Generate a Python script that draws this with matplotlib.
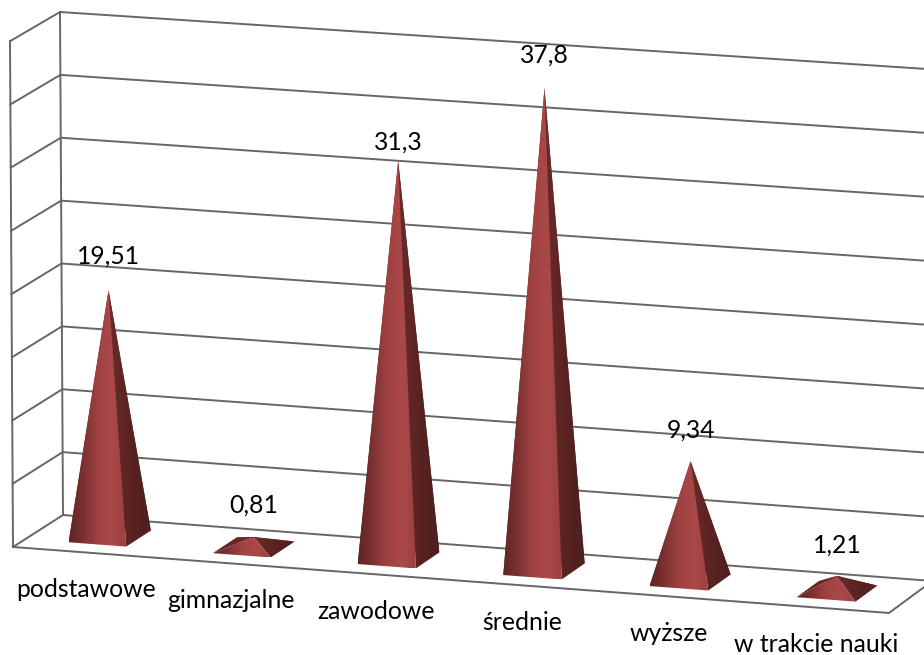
import matplotlib
matplotlib.use("Agg")
import matplotlib.pyplot as plt
from matplotlib.colors import LinearSegmentedColormap
from matplotlib.patches import Polygon
import numpy as np

plt.rcParams['font.family'] = ['Lato', 'DejaVu Sans']

categories = ["podstawowe", "gimnazjalne", "zawodowe", "średnie", "wyższe", "w trakcie nauki"]
values = [19.51, 0.81, 31.3, 37.8, 9.34, 1.21]
value_labels = ["19,51", "0,81", "31,3", "37,8", "9,34", "1,21"]
grid_values = [0, 5, 10, 15, 20, 25, 30, 35, 40]

W, H = 924, 655
GRID = "#666666"
HALF_W = 0.2        # half the base width, in categories
HALF_D = 0.25       # half the base depth, as a share of the floor
LABEL_GAP = [34, 32, 19, 33, 31, 31]

front_cmap = LinearSegmentedColormap.from_list("front", ["#5f2424", "#7d3232", "#a04242", "#aa4848", "#9c4040"])
right_cmap = LinearSegmentedColormap.from_list("right", ["#6b2b29", "#5a2322", "#4e1e1e"])
left_cmap = LinearSegmentedColormap.from_list("left", ["#5a2222", "#742c2c"])


def project(u, d, v):
    # u: position along the categories 0-6, d: depth 0-1, v: value on the 0-40 axis
    fx = 13 + 143.9 * u + 0.35 * u ** 2
    fy = 547 + 0.0753 * (fx - 13)
    scale = 12.575 + 0.07 * (1 - d) + 0.035 * u
    x = fx + (50 - 1.1 * u) * d - 0.075 * v * (1 - u / 3)
    y = fy - 32 * d - scale * v
    return x, y


def gradient_face(ax, pts, cmap, zorder):
    pts = np.array(pts)
    grad = np.linspace(0, 1, 128).reshape(1, -1)
    extent = (pts[:, 0].min(), pts[:, 0].max(), pts[:, 1].max(), pts[:, 1].min())
    im = ax.imshow(grad, cmap=cmap, extent=extent, aspect="auto", zorder=zorder, interpolation="bilinear")
    poly = Polygon(pts, closed=True, transform=ax.transData, facecolor="none", edgecolor="none")
    ax.add_patch(poly)
    im.set_clip_path(poly)


fig = plt.figure(figsize=(W / 100, H / 100), dpi=100)
ax = fig.add_axes([0, 0, 1, 1])

# walls and floor
for v in grid_values:
    a, b, c = project(0, 0, v), project(0, 1, v), project(6, 1, v)
    ax.plot([a[0], b[0], c[0]], [a[1], b[1], c[1]], color=GRID, lw=1.4, zorder=1)
for d in [0, 1]:
    a, b = project(0, d, 0), project(0, d, 40)
    ax.plot([a[0], b[0]], [a[1], b[1]], color=GRID, lw=1.4, zorder=1)
a, b, c = project(0, 0, 0), project(6, 0, 0), project(6, 1, 0)
ax.plot([a[0], b[0], c[0]], [a[1], b[1], c[1]], color=GRID, lw=1.4, zorder=1)

# pyramids
for i, val in enumerate(values):
    u = i + 0.5
    fl = project(u - HALF_W, 0.5 - HALF_D, 0)
    fr = project(u + HALF_W, 0.5 - HALF_D, 0)
    br = project(u + HALF_W, 0.5 + HALF_D, 0)
    bl = project(u - HALF_W, 0.5 + HALF_D, 0)
    apex = project(u, 0.5, val)
    z = 3 + i
    gradient_face(ax, [bl, br, apex], left_cmap, z)
    gradient_face(ax, [fl, bl, apex], left_cmap, z + 0.1)
    gradient_face(ax, [fr, br, apex], right_cmap, z + 0.2)
    gradient_face(ax, [fl, fr, apex], front_cmap, z + 0.3)
    ax.text(apex[0], apex[1] - LABEL_GAP[i], value_labels[i], ha="center", va="center",
            fontsize=17.8, color="black", zorder=20)
    lx, ly = project(u, 0, 0)
    ax.text(lx + 1, ly + 37, categories[i], ha="center", va="center", fontsize=17.8, color="black", zorder=20)

ax.set_xlim(0, W)
ax.set_ylim(H, 0)
ax.axis("off")
fig.savefig("out.png", dpi=100, facecolor="white")
